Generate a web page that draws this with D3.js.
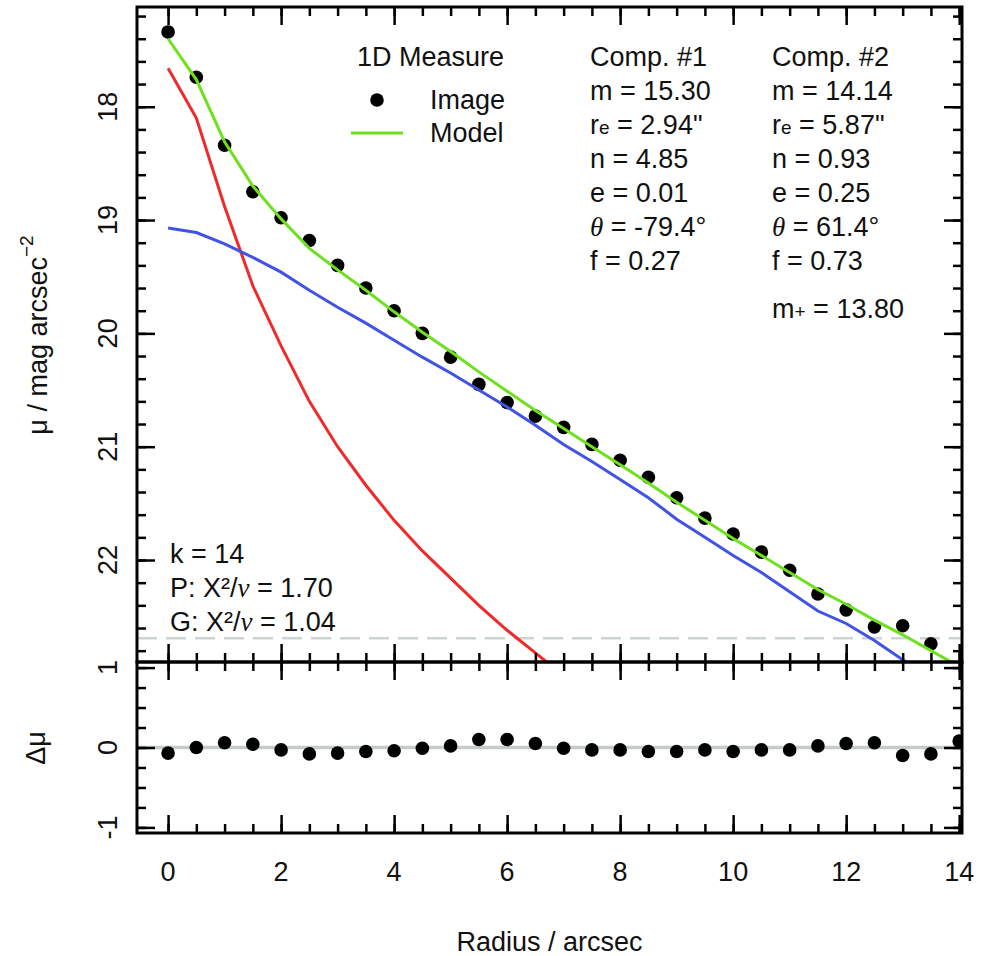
<!DOCTYPE html>
<html>
<head>
<meta charset="utf-8">
<script src="https://cdn.jsdelivr.net/npm/d3@7"></script>
<style>
  body { margin: 0; background: #fff; }
  text { font-family: "Liberation Sans", Arial, sans-serif; font-size: 27px; fill: #111; }
</style>
</head>
<body>
<div id="chart"></div>
<script>
// radius samples (arcsec)
const radius = [0, 0.5, 1, 1.5, 2, 2.5, 3, 3.5, 4, 4.5, 5, 5.5, 6, 6.5, 7, 7.5, 8, 8.5, 9, 9.5, 10, 10.5, 11, 11.5, 12, 12.5, 13, 13.5, 14];
// measured surface brightness of the image
const imageMu = [17.34, 17.74, 18.34, 18.75, 18.98, 19.18, 19.40, 19.60, 19.80, 20.00, 20.21, 20.45, 20.61, 20.73, 20.83, 20.98, 21.12, 21.27, 21.45, 21.63, 21.77, 21.93, 22.09, 22.30, 22.44, 22.59, 22.58, 22.74, 23.02];
// total model (green)
const modelMu = [17.40, 17.76, 18.31, 18.70, 18.99, 19.25, 19.44, 19.62, 19.81, 19.99, 20.16, 20.34, 20.51, 20.68, 20.84, 21.00, 21.16, 21.32, 21.49, 21.65, 21.81, 21.96, 22.11, 22.26, 22.39, 22.53, 22.66, 22.80, 22.94];
// component #1 (red), only the first points are inside the panel
const comp1Mu = [17.66, 18.10, 18.88, 19.58, 20.11, 20.60, 21.00, 21.34, 21.65, 21.92, 22.16, 22.40, 22.62, 22.82, 23.02];
// component #2 (blue)
const comp2Mu = [19.07, 19.11, 19.21, 19.33, 19.46, 19.62, 19.77, 19.91, 20.06, 20.21, 20.35, 20.50, 20.65, 20.81, 20.98, 21.13, 21.29, 21.45, 21.64, 21.80, 21.96, 22.11, 22.28, 22.45, 22.56, 22.71, 22.88, 23.03];
// residuals image - model
const residual = [-0.07, 0.00, 0.06, 0.04, -0.03, -0.08, -0.07, -0.05, -0.04, -0.01, 0.02, 0.10, 0.10, 0.05, -0.01, -0.03, -0.03, -0.05, -0.05, -0.03, -0.05, -0.03, -0.03, 0.02, 0.05, 0.06, -0.10, -0.08, 0.08];
const skyLevel = 22.69;

const xTicks = [0, 2, 4, 6, 8, 10, 12, 14];
const muTicks = [18, 19, 20, 21, 22];
const resTicks = [-1, 0, 1];
const resTickLabels = ["-1", "0", "1"];

const W = 984, H = 956;
const pLeft = 137, pRight = 962, pTop = 7, pMid = 662, pBottom = 833;

const svg = d3.select("#chart").append("svg")
    .attr("width", W)
    .attr("height", H);

const x = d3.scaleLinear().domain([-0.55, 14.05]).range([pLeft, pRight]);
const y = d3.scaleLinear().domain([17.12, 22.9]).range([pTop, pMid]);
const yr = d3.scaleLinear().domain([1.07, -1.07]).range([pMid, pBottom]);

// clip regions for the two panels
const defs = svg.append("defs");
defs.append("clipPath").attr("id", "clipTop").append("rect")
    .attr("x", pLeft).attr("y", pTop).attr("width", pRight - pLeft).attr("height", pMid - pTop);
defs.append("clipPath").attr("id", "clipBot").append("rect")
    .attr("x", pLeft).attr("y", pMid).attr("width", pRight - pLeft).attr("height", pBottom - pMid);

// reference lines
svg.append("line")
    .attr("x1", pLeft).attr("x2", pRight)
    .attr("y1", y(skyLevel)).attr("y2", y(skyLevel))
    .attr("stroke", "#cdd4d4").attr("stroke-width", 2.5)
    .attr("stroke-dasharray", "20,9");

svg.append("line")
    .attr("x1", pLeft).attr("x2", pRight)
    .attr("y1", yr(0)).attr("y2", yr(0))
    .attr("stroke", "#c3cbcb").attr("stroke-width", 3.5);

// upper panel: points then profiles
const upper = svg.append("g").attr("clip-path", "url(#clipTop)");

upper.selectAll("circle.img")
    .data(imageMu)
    .join("circle")
    .attr("class", "img")
    .attr("cx", (d, i) => x(radius[i]))
    .attr("cy", d => y(d))
    .attr("r", 6.8)
    .attr("fill", "#000");

const line = d3.line()
    .x((d, i) => x(radius[i]))
    .y(d => y(d));

upper.append("path").datum(comp1Mu)
    .attr("d", line).attr("fill", "none")
    .attr("stroke", "#f02a2a").attr("stroke-width", 3);

upper.append("path").datum(comp2Mu)
    .attr("d", line).attr("fill", "none")
    .attr("stroke", "#4152e6").attr("stroke-width", 3);

upper.append("path").datum(modelMu)
    .attr("d", line).attr("fill", "none")
    .attr("stroke", "#6ee01e").attr("stroke-width", 3);

// lower panel: residuals
const lower = svg.append("g").attr("clip-path", "url(#clipBot)");
lower.selectAll("circle.res")
    .data(residual)
    .join("circle")
    .attr("class", "res")
    .attr("cx", (d, i) => x(radius[i]))
    .attr("cy", d => yr(d))
    .attr("r", 6.8)
    .attr("fill", "#000");

// ticks (all pointing into the panels)
function ticks(gen, scale, vals, size, tx, ty) {
    svg.append("g")
        .attr("transform", `translate(${tx},${ty})`)
        .call(gen(scale).tickValues(vals).tickSize(size).tickFormat(""))
        .call(g => g.select(".domain").remove())
        .call(g => g.selectAll("line").attr("stroke", "#000").attr("stroke-width", 2.5));
}
const xMinor = d3.range(0, 14.01, 0.5);
const muMinor = d3.range(17.2, 22.81, 0.2);
const resMinor = d3.range(-1, 1.01, 0.25);

[[d3.axisTop, pTop], [d3.axisBottom, pMid], [d3.axisTop, pMid], [d3.axisBottom, pBottom]].forEach(([gen, yy]) => {
    ticks(gen, x, xMinor, -9, 0, yy);
    ticks(gen, x, xTicks, -18, 0, yy);
});
[[d3.axisLeft, pLeft], [d3.axisRight, pRight]].forEach(([gen, xx]) => {
    ticks(gen, y, muMinor, -9, xx, 0);
    ticks(gen, y, muTicks, -18, xx, 0);
    ticks(gen, yr, resMinor, -9, xx, 0);
    ticks(gen, yr, resTicks, -18, xx, 0);
});

// frames
svg.append("rect")
    .attr("x", pLeft).attr("y", pTop).attr("width", pRight - pLeft).attr("height", pMid - pTop)
    .attr("fill", "none").attr("stroke", "#000").attr("stroke-width", 3);
svg.append("rect")
    .attr("x", pLeft).attr("y", pMid).attr("width", pRight - pLeft).attr("height", pBottom - pMid)
    .attr("fill", "none").attr("stroke", "#000").attr("stroke-width", 3);

// tick labels
svg.selectAll("text.xl")
    .data(xTicks)
    .join("text")
    .attr("class", "xl")
    .attr("x", d => x(d))
    .attr("y", 881)
    .attr("text-anchor", "middle")
    .text(d => d);

function yLabel(txt, yy, bx) {
    svg.append("text")
        .attr("transform", `translate(${bx},${yy}) rotate(-90)`)
        .attr("text-anchor", "middle")
        .text(txt);
}
muTicks.forEach(d => yLabel(d, y(d), 117));
resTicks.forEach((d, i) => yLabel(resTickLabels[i], yr(d), 117));

// axis titles
svg.append("text")
    .attr("x", (pLeft + pRight) / 2)
    .attr("y", 951)
    .attr("text-anchor", "middle")
    .text("Radius / arcsec");

const yt = svg.append("text")
    .attr("transform", "translate(47,335) rotate(-90)")
    .attr("text-anchor", "middle");
yt.append("tspan").text("μ / mag arcsec");
yt.append("tspan").attr("font-size", "19px").attr("dy", -14).text("−2");

svg.append("text")
    .attr("transform", "translate(45,748) rotate(-90)")
    .attr("text-anchor", "middle")
    .text("Δμ");

// legend
svg.append("text").attr("x", 357).attr("y", 66).text("1D Measure");
svg.append("circle").attr("cx", 377).attr("cy", 100).attr("r", 6.8).attr("fill", "#000");
svg.append("text").attr("x", 430).attr("y", 109).text("Image");
svg.append("line").attr("x1", 351).attr("x2", 403).attr("y1", 133).attr("y2", 133)
    .attr("stroke", "#6ee01e").attr("stroke-width", 3);
svg.append("text").attr("x", 430).attr("y", 142).text("Model");

// component parameter blocks
const comps = [
    { x: 590, title: "Comp. #1", m: "15.30", re: "2.94\"", n: "4.85", e: "0.01", th: "-79.4°", f: "0.27" },
    { x: 772, title: "Comp. #2", m: "14.14", re: "5.87\"", n: "0.93", e: "0.25", th: "61.4°", f: "0.73" }
];
const serifIt = "'Liberation Serif', 'DejaVu Serif', serif";
comps.forEach(c => {
    svg.append("text").attr("x", c.x).attr("y", 66).text(c.title);
    svg.append("text").attr("x", c.x).attr("y", 100).text("m = " + c.m);
    const r = svg.append("text").attr("x", c.x).attr("y", 134);
    r.append("tspan").text("r");
    r.append("tspan").attr("font-size", "19px").text("e");
    r.append("tspan").text(" = " + c.re);
    svg.append("text").attr("x", c.x).attr("y", 168).text("n = " + c.n);
    svg.append("text").attr("x", c.x).attr("y", 202).text("e = " + c.e);
    const t = svg.append("text").attr("x", c.x).attr("y", 236);
    t.append("tspan").attr("font-family", serifIt).attr("font-style", "italic").text("θ");
    t.append("tspan").text(" = " + c.th);
    svg.append("text").attr("x", c.x).attr("y", 270).text("f = " + c.f);
});
const mp = svg.append("text").attr("x", 772).attr("y", 318);
mp.append("tspan").text("m");
mp.append("tspan").attr("font-size", "19px").text("+");
mp.append("tspan").text(" = 13.80");

// fit statistics
svg.append("text").attr("x", 170).attr("y", 563).text("k = 14");
[["P", "1.70", 597], ["G", "1.04", 631]].forEach(([lab, val, yy]) => {
    const s = svg.append("text").attr("x", 170).attr("y", yy);
    s.append("tspan").text(lab + ": X²/");
    s.append("tspan").attr("font-family", serifIt).attr("font-style", "italic").text("ν");
    s.append("tspan").text(" = " + val);
});
</script>
</body>
</html>
